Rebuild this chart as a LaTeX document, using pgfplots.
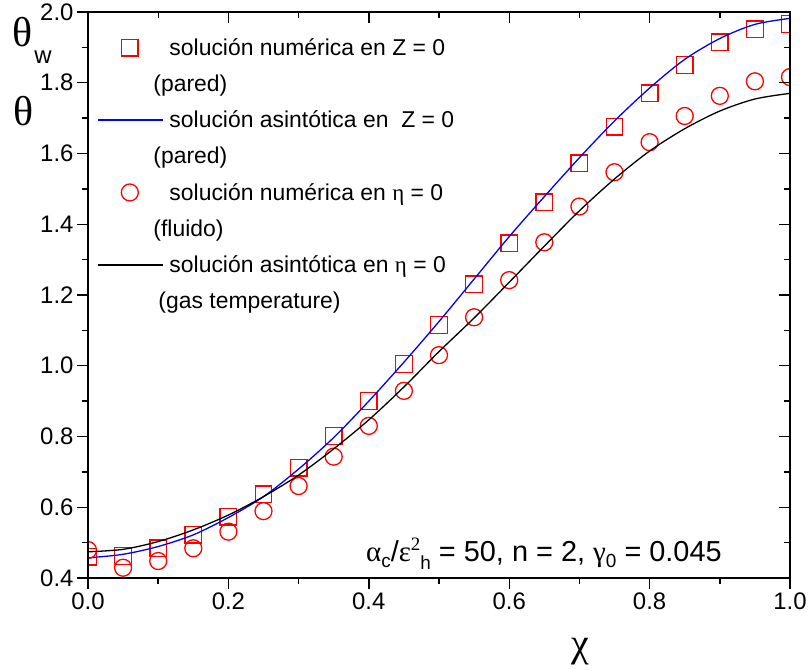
\documentclass[border=0pt]{standalone}
\usepackage{pgfplots}
\pgfplotsset{compat=1.18}
\usepackage{fontspec}
\setmainfont{Liberation Sans}
\newfontfamily\serif{Liberation Serif}
\definecolor{myred}{rgb}{1,0,0}
\definecolor{myblue}{rgb}{0,0,1}
\begin{document}
\begin{tikzpicture}
\pgfplotsset{
  common/.style={
    scale only axis, width=702bp, height=566bp,
    xmin=0, xmax=1, ymin=0.4, ymax=2.0,
    xtick={0,0.2,0.4,0.6,0.8,1.0},
    ytick={0.4,0.6,0.8,1.0,1.2,1.4,1.6,1.8,2.0},
    minor x tick num=1, minor y tick num=1,
    major tick length=11bp, minor tick length=6bp,
    axis line style={line width=1.6bp},
    every tick/.style={line width=1.4bp, black},
  }
}
\begin{axis}[common,
  tick align=outside, xtick pos=left, ytick pos=left,
  tick label style={font=\fontsize{24}{28}\selectfont},
  /pgf/number format/assume math mode=true,
  xticklabel style={/pgf/number format/fixed, /pgf/number format/fixed zerofill, /pgf/number format/precision=1},
  yticklabel style={/pgf/number format/fixed, /pgf/number format/fixed zerofill, /pgf/number format/precision=1},
  clip marker paths=true,
  legend style={at={(axis description cs:0.0128,0.952)}, anchor=north west,
    draw=none, fill=none, inner sep=0pt, row sep=20bp, column sep=6bp,
    font=\fontsize{23}{27}\selectfont,
    nodes={inner sep=0pt, text height=16bp, text depth=0bp},
    cells={anchor=west}},
  legend image code/.code={\draw[mark repeat=2,mark phase=2,#1] plot coordinates {(0bp,0bp) (32bp,0bp) (65bp,0bp)};},
]
\addplot[color=myred, draw=myred, line width=1.3bp, only marks, mark=square, mark size=8.3bp, mark options={draw=myred, fill=none, line width=1.3bp}] table {
x y
0.00 0.460
0.05 0.462
0.10 0.484
0.15 0.522
0.20 0.573
0.25 0.637
0.30 0.712
0.35 0.801
0.40 0.900
0.45 1.005
0.50 1.115
0.55 1.230
0.60 1.346
0.65 1.462
0.70 1.572
0.75 1.676
0.80 1.770
0.85 1.850
0.90 1.914
0.95 1.951
1.00 1.966
};
\addlegendentry{solución numérica en Z = 0}
\addlegendimage{empty legend}
\addlegendentry{\hspace*{-16bp}(pared)}
\addplot[myblue, line width=1.3bp, smooth] table {
x y
0.00 0.457
0.05 0.467
0.10 0.489
0.15 0.522
0.20 0.571
0.25 0.630
0.30 0.708
0.35 0.797
0.40 0.900
0.45 1.010
0.50 1.125
0.55 1.245
0.60 1.365
0.65 1.478
0.70 1.588
0.75 1.692
0.80 1.785
0.85 1.866
0.90 1.925
0.95 1.965
1.00 1.982
};
\addlegendentry{solución asintótica en\ \ Z = 0}
\addlegendimage{empty legend}
\addlegendentry{\hspace*{-16bp}(pared)}
\addplot[color=myred, line width=1.3bp, only marks, mark=o, mark size=8.5bp, mark options={draw=myred, fill=none, line width=1.3bp}] table {
x y
0.00 0.479
0.05 0.429
0.10 0.448
0.15 0.484
0.20 0.531
0.25 0.589
0.30 0.660
0.35 0.743
0.40 0.830
0.45 0.929
0.50 1.030
0.55 1.137
0.60 1.242
0.65 1.349
0.70 1.450
0.75 1.547
0.80 1.632
0.85 1.706
0.90 1.763
0.95 1.804
1.00 1.816
};
\addlegendentry{solución numérica en {\serif η} = 0}
\addlegendimage{empty legend}
\addlegendentry{\hspace*{-16bp}(fluido)}
\addplot[black, line width=1.3bp, smooth] table {
x y
0.00 0.474
0.05 0.481
0.10 0.503
0.15 0.536
0.20 0.578
0.25 0.630
0.30 0.691
0.35 0.765
0.40 0.847
0.45 0.940
0.50 1.040
0.55 1.135
0.60 1.236
0.65 1.338
0.70 1.438
0.75 1.528
0.80 1.607
0.85 1.670
0.90 1.720
0.95 1.754
1.00 1.770
};
\addlegendentry{solución asintótica en {\serif η} = 0}
\addlegendimage{empty legend}
\addlegendentry{\hspace*{-11bp}(gas temperature)}
\end{axis}
\begin{axis}[common,
  tick align=inside, xtick pos=right, ytick pos=right,
  xticklabels={}, yticklabels={},
]
\end{axis}
\node[font=\serif\fontsize{42}{46}\selectfont, inner sep=0pt] at ([xshift=-65bp,yshift=-20bp]current axis.north west) {θ};
\node[font=\fontsize{24}{28}\selectfont, inner sep=0pt] at ([xshift=-45bp,yshift=-45bp]current axis.north west) {w};
\node[font=\serif\fontsize{42}{46}\selectfont, inner sep=0pt] at ([xshift=-64bp,yshift=-99bp]current axis.north west) {θ};
\node[font=\serif\fontsize{40}{44}\selectfont, inner sep=0pt] at ([xshift=492bp,yshift=-74bp]current axis.south west) {χ};
\node[font=\fontsize{29}{33}\selectfont, inner sep=0pt, anchor=base west] at ([xshift=278bp,yshift=17bp]current axis.south west)
 {{\serif α}\raisebox{-6bp}{\fontsize{19}{21}\selectfont c}/{\serif ε}\raisebox{11bp}{\serif\fontsize{19}{21}\selectfont 2}\raisebox{-8bp}{\fontsize{19}{21}\selectfont h} = 50, n = 2, {\serif γ}\raisebox{-6bp}{\fontsize{19}{21}\selectfont 0} = 0.045};
\pgfresetboundingbox
\path ([xshift=-88bp,yshift=-92bp]current axis.south west) rectangle ([xshift=19bp,yshift=12bp]current axis.north east);
\end{tikzpicture}
\end{document}
